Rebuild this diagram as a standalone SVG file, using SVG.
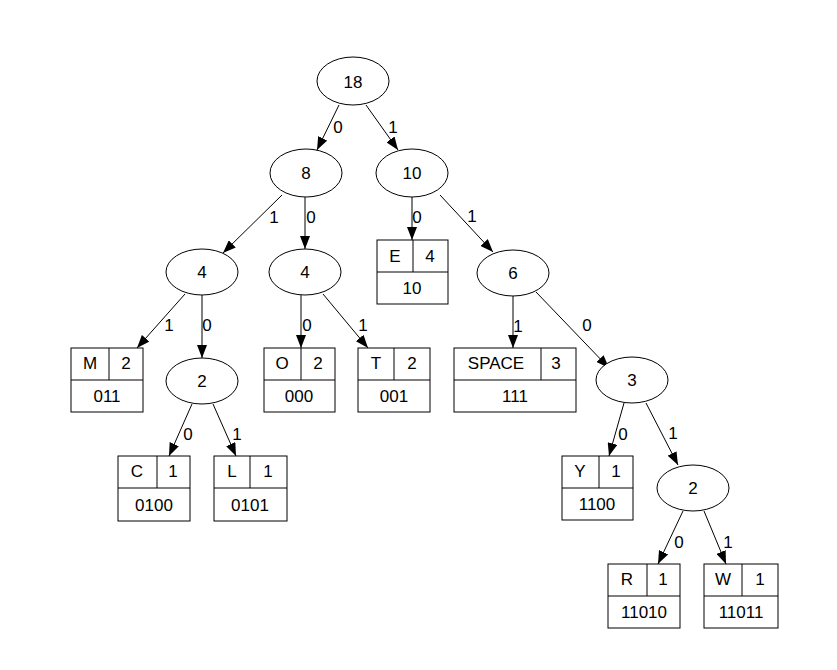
<svg xmlns="http://www.w3.org/2000/svg" width="837" height="670" viewBox="0 0 837 670">
<style>
text{font-family:"Liberation Sans",Arial,sans-serif;font-size:17px;fill:#000;text-anchor:middle}
ellipse,rect{fill:#fff;stroke:#000;stroke-width:1}
.d{stroke:#000;stroke-width:1;fill:none}
#edges line{stroke:#000;stroke-width:1}
</style>
<defs>
<marker id="ah" markerWidth="13" markerHeight="10" refX="13" refY="5" orient="auto" markerUnits="userSpaceOnUse">
<path d="M0,0 L13,5 L0,10 z" fill="#000"/>
</marker>
</defs>
<rect x="0" y="0" width="837" height="670" style="fill:#fff;stroke:none"/>
<g id="edges">
<line x1="339" y1="105" x2="317" y2="150" marker-end="url(#ah)"/><text x="338" y="133">0</text>
<line x1="366" y1="105" x2="398" y2="150" marker-end="url(#ah)"/><text x="393" y="133">1</text>
<line x1="282" y1="195" x2="223" y2="253" marker-end="url(#ah)"/><text x="274" y="223">1</text>
<line x1="305" y1="197" x2="305" y2="249" marker-end="url(#ah)"/><text x="311" y="223">0</text>
<line x1="412" y1="197" x2="412" y2="240" marker-end="url(#ah)"/><text x="417" y="223">0</text>
<line x1="440" y1="195" x2="493" y2="252" marker-end="url(#ah)"/><text x="472" y="222">1</text>
<line x1="185" y1="294" x2="137" y2="348" marker-end="url(#ah)"/><text x="169" y="331">1</text>
<line x1="202" y1="295" x2="202" y2="358" marker-end="url(#ah)"/><text x="207" y="331">0</text>
<line x1="301" y1="295" x2="301" y2="348" marker-end="url(#ah)"/><text x="307" y="331">0</text>
<line x1="323" y1="294" x2="368" y2="348" marker-end="url(#ah)"/><text x="363" y="331">1</text>
<line x1="513" y1="296" x2="513" y2="348" marker-end="url(#ah)"/><text x="518" y="332">1</text>
<line x1="536" y1="292" x2="609" y2="368" marker-end="url(#ah)"/><text x="587" y="331">0</text>
<line x1="192" y1="404" x2="169" y2="456" marker-end="url(#ah)"/><text x="188" y="440">0</text>
<line x1="213" y1="404" x2="236" y2="456" marker-end="url(#ah)"/><text x="237" y="440">1</text>
<line x1="624" y1="403" x2="609" y2="456" marker-end="url(#ah)"/><text x="623" y="440">0</text>
<line x1="646" y1="403" x2="678" y2="465" marker-end="url(#ah)"/><text x="673" y="439">1</text>
<line x1="683" y1="511" x2="658" y2="564" marker-end="url(#ah)"/><text x="679" y="548">0</text>
<line x1="704" y1="511" x2="726" y2="564" marker-end="url(#ah)"/><text x="728" y="548">1</text>
</g>
<g id="n18"><ellipse cx="353" cy="81" rx="36" ry="24"/><text x="353" y="88">18</text></g>
<g id="n8"><ellipse cx="306" cy="173" rx="36" ry="24"/><text x="306" y="179">8</text></g>
<g id="n10"><ellipse cx="412" cy="173" rx="36" ry="24"/><text x="412" y="179">10</text></g>
<g id="n4a"><ellipse cx="202" cy="272" rx="36" ry="23"/><text x="202" y="278">4</text></g>
<g id="n4b"><ellipse cx="305" cy="272" rx="36" ry="23"/><text x="305" y="278">4</text></g>
<g id="nE"><rect x="377" y="240" width="71" height="64"/><line class="d" x1="377" y1="272" x2="448" y2="272"/><line class="d" x1="413" y1="240" x2="413" y2="272"/><text x="395" y="262">E</text><text x="430" y="262">4</text><text x="412" y="294">10</text></g>
<g id="n6"><ellipse cx="513" cy="273" rx="36" ry="23"/><text x="513" y="279">6</text></g>
<g id="nM"><rect x="71" y="348" width="72" height="64"/><line class="d" x1="71" y1="380" x2="143" y2="380"/><line class="d" x1="109" y1="348" x2="109" y2="380"/><text x="90" y="369">M</text><text x="126" y="369">2</text><text x="107" y="402">011</text></g>
<g id="n2a"><ellipse cx="202" cy="381" rx="36" ry="23"/><text x="202" y="387">2</text></g>
<g id="nO"><rect x="264" y="348" width="71" height="64"/><line class="d" x1="264" y1="380" x2="335" y2="380"/><line class="d" x1="301" y1="348" x2="301" y2="380"/><text x="282" y="369">O</text><text x="318" y="369">2</text><text x="299" y="402">000</text></g>
<g id="nT"><rect x="358" y="348" width="72" height="64"/><line class="d" x1="358" y1="380" x2="430" y2="380"/><line class="d" x1="394" y1="348" x2="394" y2="380"/><text x="376" y="369">T</text><text x="412" y="369">2</text><text x="394" y="402">001</text></g>
<g id="nSPACE"><rect x="454" y="348" width="122" height="64"/><line class="d" x1="454" y1="380" x2="576" y2="380"/><line class="d" x1="541" y1="348" x2="541" y2="380"/><text x="496" y="369">SPACE</text><text x="556" y="369">3</text><text x="515" y="402">111</text></g>
<g id="n3"><ellipse cx="632" cy="380" rx="36" ry="23"/><text x="632" y="386">3</text></g>
<g id="nC"><rect x="118" y="456" width="72" height="65"/><line class="d" x1="118" y1="488" x2="190" y2="488"/><line class="d" x1="157" y1="456" x2="157" y2="488"/><text x="137" y="477">C</text><text x="173" y="477">1</text><text x="154" y="511">0100</text></g>
<g id="nL"><rect x="214" y="456" width="73" height="65"/><line class="d" x1="214" y1="488" x2="287" y2="488"/><line class="d" x1="250" y1="456" x2="250" y2="488"/><text x="232" y="477">L</text><text x="268" y="477">1</text><text x="250" y="511">0101</text></g>
<g id="nY"><rect x="562" y="456" width="71" height="64"/><line class="d" x1="562" y1="488" x2="633" y2="488"/><line class="d" x1="599" y1="456" x2="599" y2="488"/><text x="580" y="477">Y</text><text x="616" y="477">1</text><text x="597" y="510">1100</text></g>
<g id="n2b"><ellipse cx="693" cy="488" rx="36" ry="23"/><text x="693" y="494">2</text></g>
<g id="nR"><rect x="608" y="564" width="72" height="64"/><line class="d" x1="608" y1="596" x2="680" y2="596"/><line class="d" x1="647" y1="564" x2="647" y2="596"/><text x="627" y="585">R</text><text x="663" y="585">1</text><text x="644" y="618">11010</text></g>
<g id="nW"><rect x="704" y="564" width="74" height="64"/><line class="d" x1="704" y1="596" x2="778" y2="596"/><line class="d" x1="742" y1="564" x2="742" y2="596"/><text x="723" y="585">W</text><text x="760" y="585">1</text><text x="741" y="618">11011</text></g>
</svg>
